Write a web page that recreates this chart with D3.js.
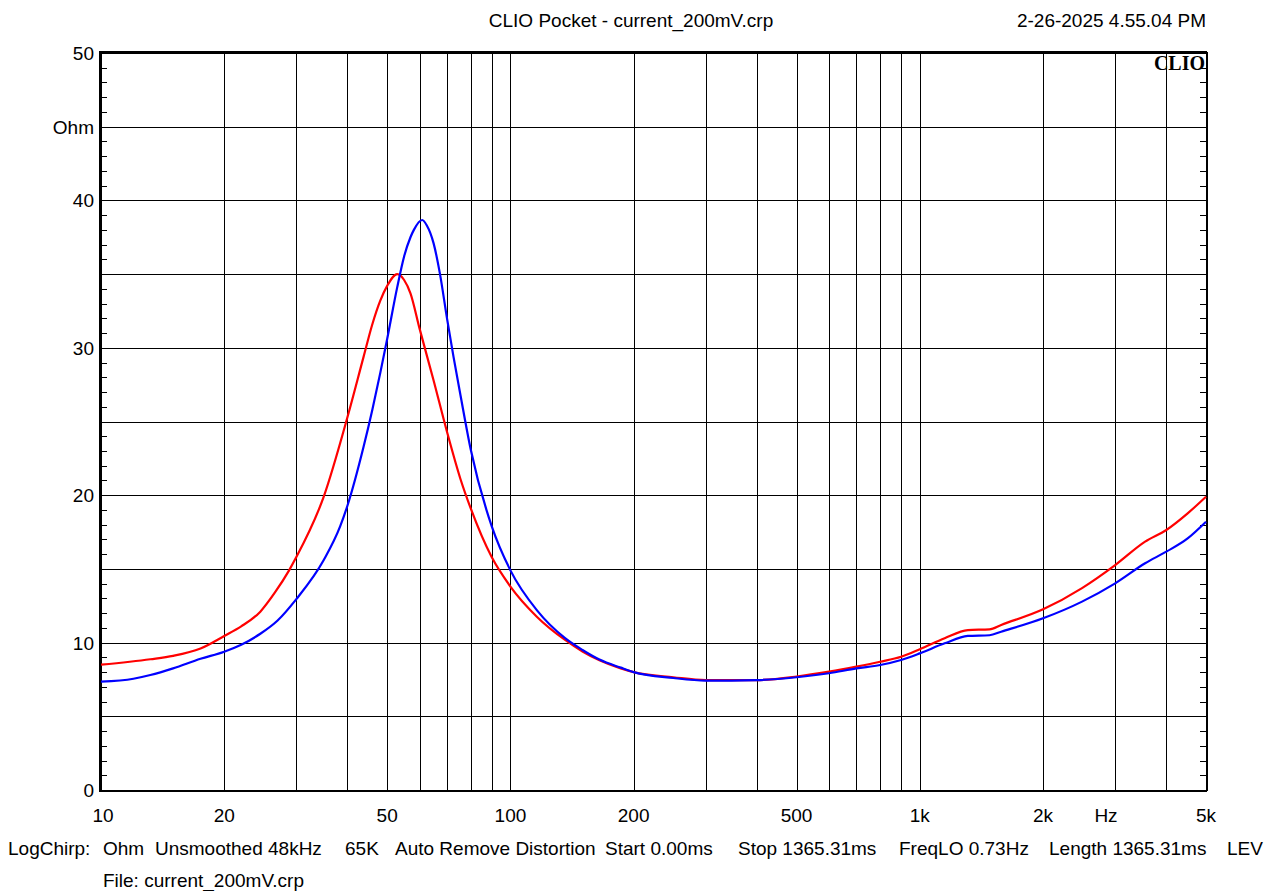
<!DOCTYPE html>
<html>
<head>
<meta charset="utf-8">
<script src="https://cdn.jsdelivr.net/npm/d3@7"></script>
<style>
  html, body { margin: 0; padding: 0; background: #fff; }
  svg { display: block; }
  text { font-family: "Liberation Sans", Arial, sans-serif; fill: #000; }
</style>
</head>
<body>
<svg id="chart" width="1267" height="891"></svg>
<script>
// ---- data ----
const redFreq = [10, 13.2, 15, 17.5, 20, 22, 24.5, 26.6, 28.8, 30, 35, 40, 43.8, 46, 48.1, 50, 52.9, 55, 57, 60, 64.9, 70, 75.5, 80, 90, 100, 116, 136, 150, 165, 186, 200, 250, 300, 400, 500, 600, 700, 800, 900, 1000, 1150, 1310, 1480, 1580, 2000, 2490, 3000, 3550, 4000, 4510, 5000];
const redOhm = [8.5, 8.87, 9.1, 9.6, 10.45, 11.1, 12.1, 13.4, 14.9, 15.8, 19.9, 25.3, 29.4, 31.6, 33.2, 34.2, 35.0, 34.6, 33.7, 31.3, 27.8, 24.3, 21.1, 19.1, 15.8, 13.8, 11.76, 10.18, 9.4, 8.8, 8.25, 8.0, 7.65, 7.45, 7.46, 7.7, 8.03, 8.37, 8.7, 9.04, 9.55, 10.3, 10.85, 10.9, 11.2, 12.26, 13.7, 15.26, 16.85, 17.64, 18.77, 19.9];
const blueFreq = [10, 12, 13.2, 15, 17.5, 20, 22, 24.5, 27, 30, 35, 38.4, 40, 43.8, 46, 48.1, 50, 52.9, 55, 57, 58.1, 60.9, 62.5, 64.9, 67.3, 70, 72.6, 75.5, 80, 90, 100, 116, 136, 150, 165, 186, 200, 250, 300, 400, 500, 600, 700, 800, 900, 1000, 1150, 1310, 1480, 1580, 2000, 2490, 3000, 3550, 4000, 4510, 5000];
const blueOhm = [7.35, 7.55, 7.8, 8.25, 8.9, 9.38, 9.85, 10.6, 11.5, 12.95, 15.6, 17.9, 19.3, 23.3, 25.8, 28.3, 30.6, 34.1, 36.2, 37.5, 38.0, 38.67, 38.3, 37.1, 35.0, 32.0, 29.4, 26.8, 23.1, 17.9, 14.9, 12.2, 10.3, 9.5, 8.85, 8.3, 8.0, 7.6, 7.42, 7.46, 7.65, 7.92, 8.25, 8.48, 8.82, 9.27, 9.95, 10.45, 10.5, 10.74, 11.65, 12.78, 14.02, 15.38, 16.17, 17.07, 18.2];
const xGrid = [20, 30, 40, 50, 60, 70, 80, 90, 100, 200, 300, 400, 500, 600, 700, 800, 900, 1000, 2000, 3000, 4000];
const xTickVals = [10, 20, 50, 100, 200, 500, 1000, 2000, 5000];
const xTickLabels = ["10", "20", "50", "100", "200", "500", "1k", "2k", "5k"];
const yGrid = [5, 10, 15, 20, 25, 30, 35, 40, 45];
const yTickVals = [0, 10, 20, 30, 40, 50];
const yUnit = "Ohm";
const xUnit = "Hz";
const title = "CLIO Pocket - current_200mV.crp";
const dateText = "2-26-2025 4.55.04 PM";
const footerParts = [
  ["LogChirp:", 8], ["Ohm", 103], ["Unsmoothed", 155], ["48kHz", 268], ["65K", 345],
  ["Auto Remove Distortion", 395], ["Start 0.00ms", 605], ["Stop 1365.31ms", 738],
  ["FreqLO 0.73Hz", 899], ["Length 1365.31ms", 1049], ["LEV", 1227]
];
const fileText = "File: current_200mV.crp";

// ---- layout ----
const L = 101, R = 1206, T = 53, B = 790;
const svg = d3.select("#chart");
const x = d3.scaleLog().domain([10, 5000]).range([L, R]);
const y = d3.scaleLinear().domain([0, 50]).range([B, T]);

// grid
const g = svg.append("g").attr("shape-rendering", "crispEdges");
g.selectAll("line.vx").data(xGrid).enter().append("line")
  .attr("x1", d => Math.round(x(d)) + 0.5).attr("x2", d => Math.round(x(d)) + 0.5)
  .attr("y1", T).attr("y2", B).attr("stroke", "#000").attr("stroke-width", 1);
g.selectAll("line.hy").data(yGrid).enter().append("line")
  .attr("x1", L).attr("x2", R)
  .attr("y1", d => Math.round(y(d)) + 0.5).attr("y2", d => Math.round(y(d)) + 0.5)
  .attr("stroke", "#000").attr("stroke-width", 1);

// minor ticks every 1 Ohm on left and right axes
const minor = d3.range(1, 50).filter(v => v % 5 !== 0);
g.selectAll("line.ml").data(minor).enter().append("line")
  .attr("x1", L).attr("x2", L + 6)
  .attr("y1", d => Math.round(y(d)) + 0.5).attr("y2", d => Math.round(y(d)) + 0.5)
  .attr("stroke", "#000").attr("stroke-width", 1);
g.selectAll("line.mr").data(minor).enter().append("line")
  .attr("x1", R - 6).attr("x2", R)
  .attr("y1", d => Math.round(y(d)) + 0.5).attr("y2", d => Math.round(y(d)) + 0.5)
  .attr("stroke", "#000").attr("stroke-width", 1);

// frame
g.append("line").attr("x1", L - 1).attr("x2", L - 1).attr("y1", T - 1).attr("y2", B + 1).attr("stroke", "#000").attr("stroke-width", 3);
g.append("line").attr("x1", L - 2).attr("x2", R + 1).attr("y1", T - 0.5).attr("y2", T - 0.5).attr("stroke", "#000").attr("stroke-width", 3);
g.append("line").attr("x1", R + 0.5).attr("x2", R + 0.5).attr("y1", T - 1).attr("y2", B + 1).attr("stroke", "#000").attr("stroke-width", 2);
g.append("line").attr("x1", L - 2).attr("x2", R + 1).attr("y1", B + 0.5).attr("y2", B + 0.5).attr("stroke", "#000").attr("stroke-width", 2);

// curves
const lineGen = (freqs, vals) => d3.line()
  .x((d, i) => x(freqs[i]))
  .y(d => y(d))
  .curve(d3.curveMonotoneX)(vals);
svg.append("clipPath").attr("id", "clip").append("rect")
  .attr("x", L).attr("y", T).attr("width", R - L + 1).attr("height", B - T);
svg.append("path").attr("d", lineGen(redFreq, redOhm)).attr("fill", "none")
  .attr("stroke", "#ff0000").attr("stroke-width", 2.2).attr("clip-path", "url(#clip)");
svg.append("path").attr("d", lineGen(blueFreq, blueOhm)).attr("fill", "none")
  .attr("stroke", "#0000ff").attr("stroke-width", 2.2).attr("clip-path", "url(#clip)");

// axis labels
const fs = 19;
svg.selectAll("text.yl").data(yTickVals).enter().append("text")
  .attr("x", 94).attr("y", d => y(d) + 7).attr("text-anchor", "end")
  .attr("font-size", fs).text(d => d);
svg.append("text").attr("x", 94).attr("y", y(45) + 7).attr("text-anchor", "end")
  .attr("font-size", fs).text(yUnit);
svg.selectAll("text.xl").data(xTickVals).enter().append("text")
  .attr("x", (d, i) => x(d) + (i === 0 ? 2 : 0)).attr("y", 822).attr("text-anchor", "middle")
  .attr("font-size", fs).text((d, i) => xTickLabels[i]);
svg.append("text").attr("x", 1106).attr("y", 822).attr("text-anchor", "middle")
  .attr("font-size", fs).text(xUnit);

// title & date
svg.append("text").attr("x", 631).attr("y", 27).attr("text-anchor", "middle")
  .attr("font-size", fs).text(title);
svg.append("text").attr("x", 1206).attr("y", 27).attr("text-anchor", "end")
  .attr("font-size", fs).text(dateText);
svg.append("text").attr("x", 1205).attr("y", 70).attr("text-anchor", "end")
  .attr("font-size", 20).attr("font-weight", "bold")
  .style("font-family", "'Liberation Serif', 'DejaVu Serif', serif").text("CLIO");

// footer
svg.selectAll("text.ft").data(footerParts).enter().append("text")
  .attr("x", d => d[1]).attr("y", 855).attr("font-size", fs).text(d => d[0]);
svg.append("text").attr("x", 103).attr("y", 887).attr("font-size", fs).text(fileText);
</script>
</body>
</html>
